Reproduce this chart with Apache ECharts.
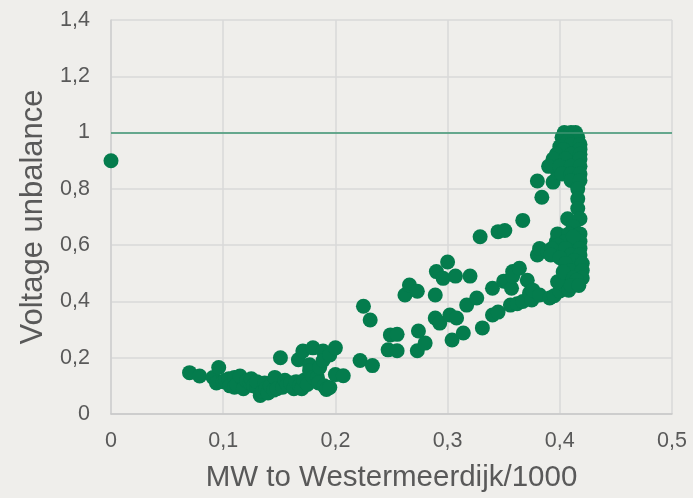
<!DOCTYPE html>
<html>
<head>
<meta charset="utf-8">
<script src="https://cdn.jsdelivr.net/npm/echarts@6/dist/echarts.min.js"></script>
<style>
  html, body { margin: 0; padding: 0; background: #EFEEEB; }
  #chart { width: 693px; height: 498px; }
</style>
</head>
<body>
<div id="chart"></div>
<script>
// Measurements: [MW/1000, voltage unbalance]
const noLoadPoints = [[0, 0.9]];

const lowLoadPoints = [
  [0.070, 0.147], [0.079, 0.135], [0.091, 0.130], [0.094, 0.110], [0.096, 0.165],
  [0.100, 0.115], [0.102, 0.120], [0.105, 0.125], [0.106, 0.100], [0.110, 0.130],
  [0.110, 0.095], [0.112, 0.105], [0.115, 0.135], [0.118, 0.090], [0.121, 0.118],
  [0.124, 0.110], [0.125, 0.125], [0.127, 0.100], [0.130, 0.095], [0.130, 0.115],
  [0.133, 0.066], [0.135, 0.080], [0.137, 0.110], [0.138, 0.090], [0.140, 0.075],
  [0.142, 0.100], [0.145, 0.085], [0.146, 0.130], [0.148, 0.090], [0.151, 0.200],
  [0.153, 0.095], [0.155, 0.120], [0.157, 0.105], [0.160, 0.110], [0.163, 0.090],
  [0.165, 0.115], [0.167, 0.193], [0.168, 0.100], [0.170, 0.090], [0.171, 0.224],
  [0.172, 0.120], [0.175, 0.105], [0.177, 0.175], [0.177, 0.154], [0.180, 0.235],
  [0.180, 0.130], [0.184, 0.130], [0.185, 0.110], [0.186, 0.165], [0.189, 0.224],
  [0.189, 0.190], [0.190, 0.100], [0.192, 0.087], [0.195, 0.210], [0.195, 0.094],
  [0.200, 0.235], [0.200, 0.140], [0.207, 0.136]
];

const midLoadPoints = [
  [0.222, 0.190], [0.225, 0.383], [0.231, 0.334], [0.233, 0.172], [0.247, 0.228],
  [0.249, 0.281], [0.255, 0.283], [0.255, 0.225], [0.262, 0.423], [0.266, 0.458],
  [0.273, 0.436], [0.274, 0.295], [0.273, 0.225], [0.280, 0.252], [0.289, 0.423],
  [0.289, 0.341], [0.290, 0.506], [0.293, 0.323], [0.296, 0.482], [0.300, 0.540],
  [0.302, 0.352], [0.304, 0.263], [0.307, 0.490], [0.308, 0.341], [0.314, 0.288],
  [0.317, 0.387], [0.320, 0.490], [0.326, 0.412], [0.329, 0.630], [0.331, 0.306],
  [0.340, 0.352], [0.340, 0.447], [0.345, 0.648], [0.345, 0.362], [0.350, 0.472],
  [0.351, 0.652], [0.353, 0.472], [0.356, 0.387], [0.357, 0.447], [0.358, 0.506],
  [0.358, 0.490], [0.362, 0.392], [0.364, 0.518], [0.367, 0.688], [0.367, 0.400],
  [0.371, 0.475], [0.373, 0.430], [0.375, 0.405], [0.376, 0.440]
];

const highLoadPoints = [
  [0.380, 0.828], [0.384, 0.770], [0.394, 0.824], [0.380, 0.565], [0.382, 0.588],
  [0.382, 0.423], [0.389, 0.577], [0.391, 0.412], [0.395, 0.420], [0.397, 0.613],
  [0.400, 0.437], [0.403, 0.620], [0.405, 0.455], [0.398, 0.470], [0.408, 0.440],
  [0.404, 1.000], [0.410, 1.000], [0.414, 1.000], [0.402, 0.983], [0.416, 0.983],
  [0.407, 0.970], [0.400, 0.950], [0.413, 0.940], [0.414, 0.860], [0.398, 0.860],
  [0.395, 0.900], [0.410, 0.958], [0.418, 0.958], [0.403, 0.940], [0.418, 0.940],
  [0.397, 0.923], [0.410, 0.923], [0.418, 0.923], [0.394, 0.906], [0.405, 0.906],
  [0.418, 0.906], [0.390, 0.880], [0.400, 0.880], [0.410, 0.880], [0.418, 0.880],
  [0.402, 0.853], [0.410, 0.853], [0.418, 0.853], [0.410, 0.830], [0.418, 0.830],
  [0.416, 0.800], [0.416, 0.765], [0.416, 0.730], [0.407, 0.694], [0.418, 0.694],
  [0.412, 0.666], [0.398, 0.640], [0.408, 0.640], [0.418, 0.640], [0.405, 0.613],
  [0.418, 0.613], [0.412, 0.600], [0.412, 0.630], [0.398, 0.600], [0.393, 0.588],
  [0.405, 0.588], [0.418, 0.588], [0.392, 0.565], [0.410, 0.565], [0.418, 0.565],
  [0.400, 0.555], [0.413, 0.545], [0.405, 0.535], [0.420, 0.535], [0.410, 0.510],
  [0.420, 0.510], [0.403, 0.505], [0.412, 0.483], [0.420, 0.483], [0.415, 0.475],
  [0.410, 0.457], [0.417, 0.457]
];

const xTicks = { min: 0, max: 0.5, interval: 0.1 };
const yTicks = { min: 0, max: 1.4, interval: 0.2 };
const limitValue = 1;

const green = '#047C4D';
const textColor = '#595959';
const gridColor = '#D9D9D9';
const fontFamily = '"Liberation Sans", Arial, sans-serif';
const fmt = v => String(+v.toFixed(1)).replace('.', ',');

const chart = echarts.init(document.getElementById('chart'), null, { renderer: 'canvas' });
chart.setOption({
  backgroundColor: '#EFEEEB',
  animation: false,
  grid: { left: 111, right: 21, top: 20, bottom: 81 },
  xAxis: {
    type: 'value',
    min: xTicks.min, max: xTicks.max, interval: xTicks.interval,
    name: 'MW to Westermeerdijk/1000',
    nameLocation: 'middle',
    nameGap: 49,
    nameTextStyle: { color: textColor, fontSize: 29.5, fontFamily },
    axisLine: { show: true, lineStyle: { color: '#C8C8C8', width: 1.5 } },
    axisTick: { show: false },
    axisLabel: { color: textColor, fontSize: 21.5, fontFamily, margin: 16, formatter: fmt },
    splitLine: { show: true, lineStyle: { color: gridColor, width: 1.5 } }
  },
  yAxis: {
    type: 'value',
    min: yTicks.min, max: yTicks.max, interval: yTicks.interval,
    name: 'Voltage unbalance',
    nameLocation: 'middle',
    nameGap: 60,
    nameTextStyle: { color: textColor, fontSize: 31, fontFamily },
    axisLine: { show: true, lineStyle: { color: '#CFCFCF', width: 1.5 } },
    axisTick: { show: false },
    axisLabel: { color: textColor, fontSize: 21.5, fontFamily, margin: 21, formatter: fmt },
    splitLine: { show: true, lineStyle: { color: gridColor, width: 1.5 } }
  },
  series: [
    {
      type: 'scatter',
      symbolSize: 15,
      itemStyle: { color: green, opacity: 1 },
      data: [].concat(noLoadPoints, lowLoadPoints, midLoadPoints, highLoadPoints),
      markLine: {
        silent: true,
        symbol: 'none',
        label: { show: false },
        lineStyle: { color: '#3D9572', width: 1.5, type: 'solid' },
        data: [{ yAxis: limitValue }]
      }
    }
  ]
});
</script>
</body>
</html>
